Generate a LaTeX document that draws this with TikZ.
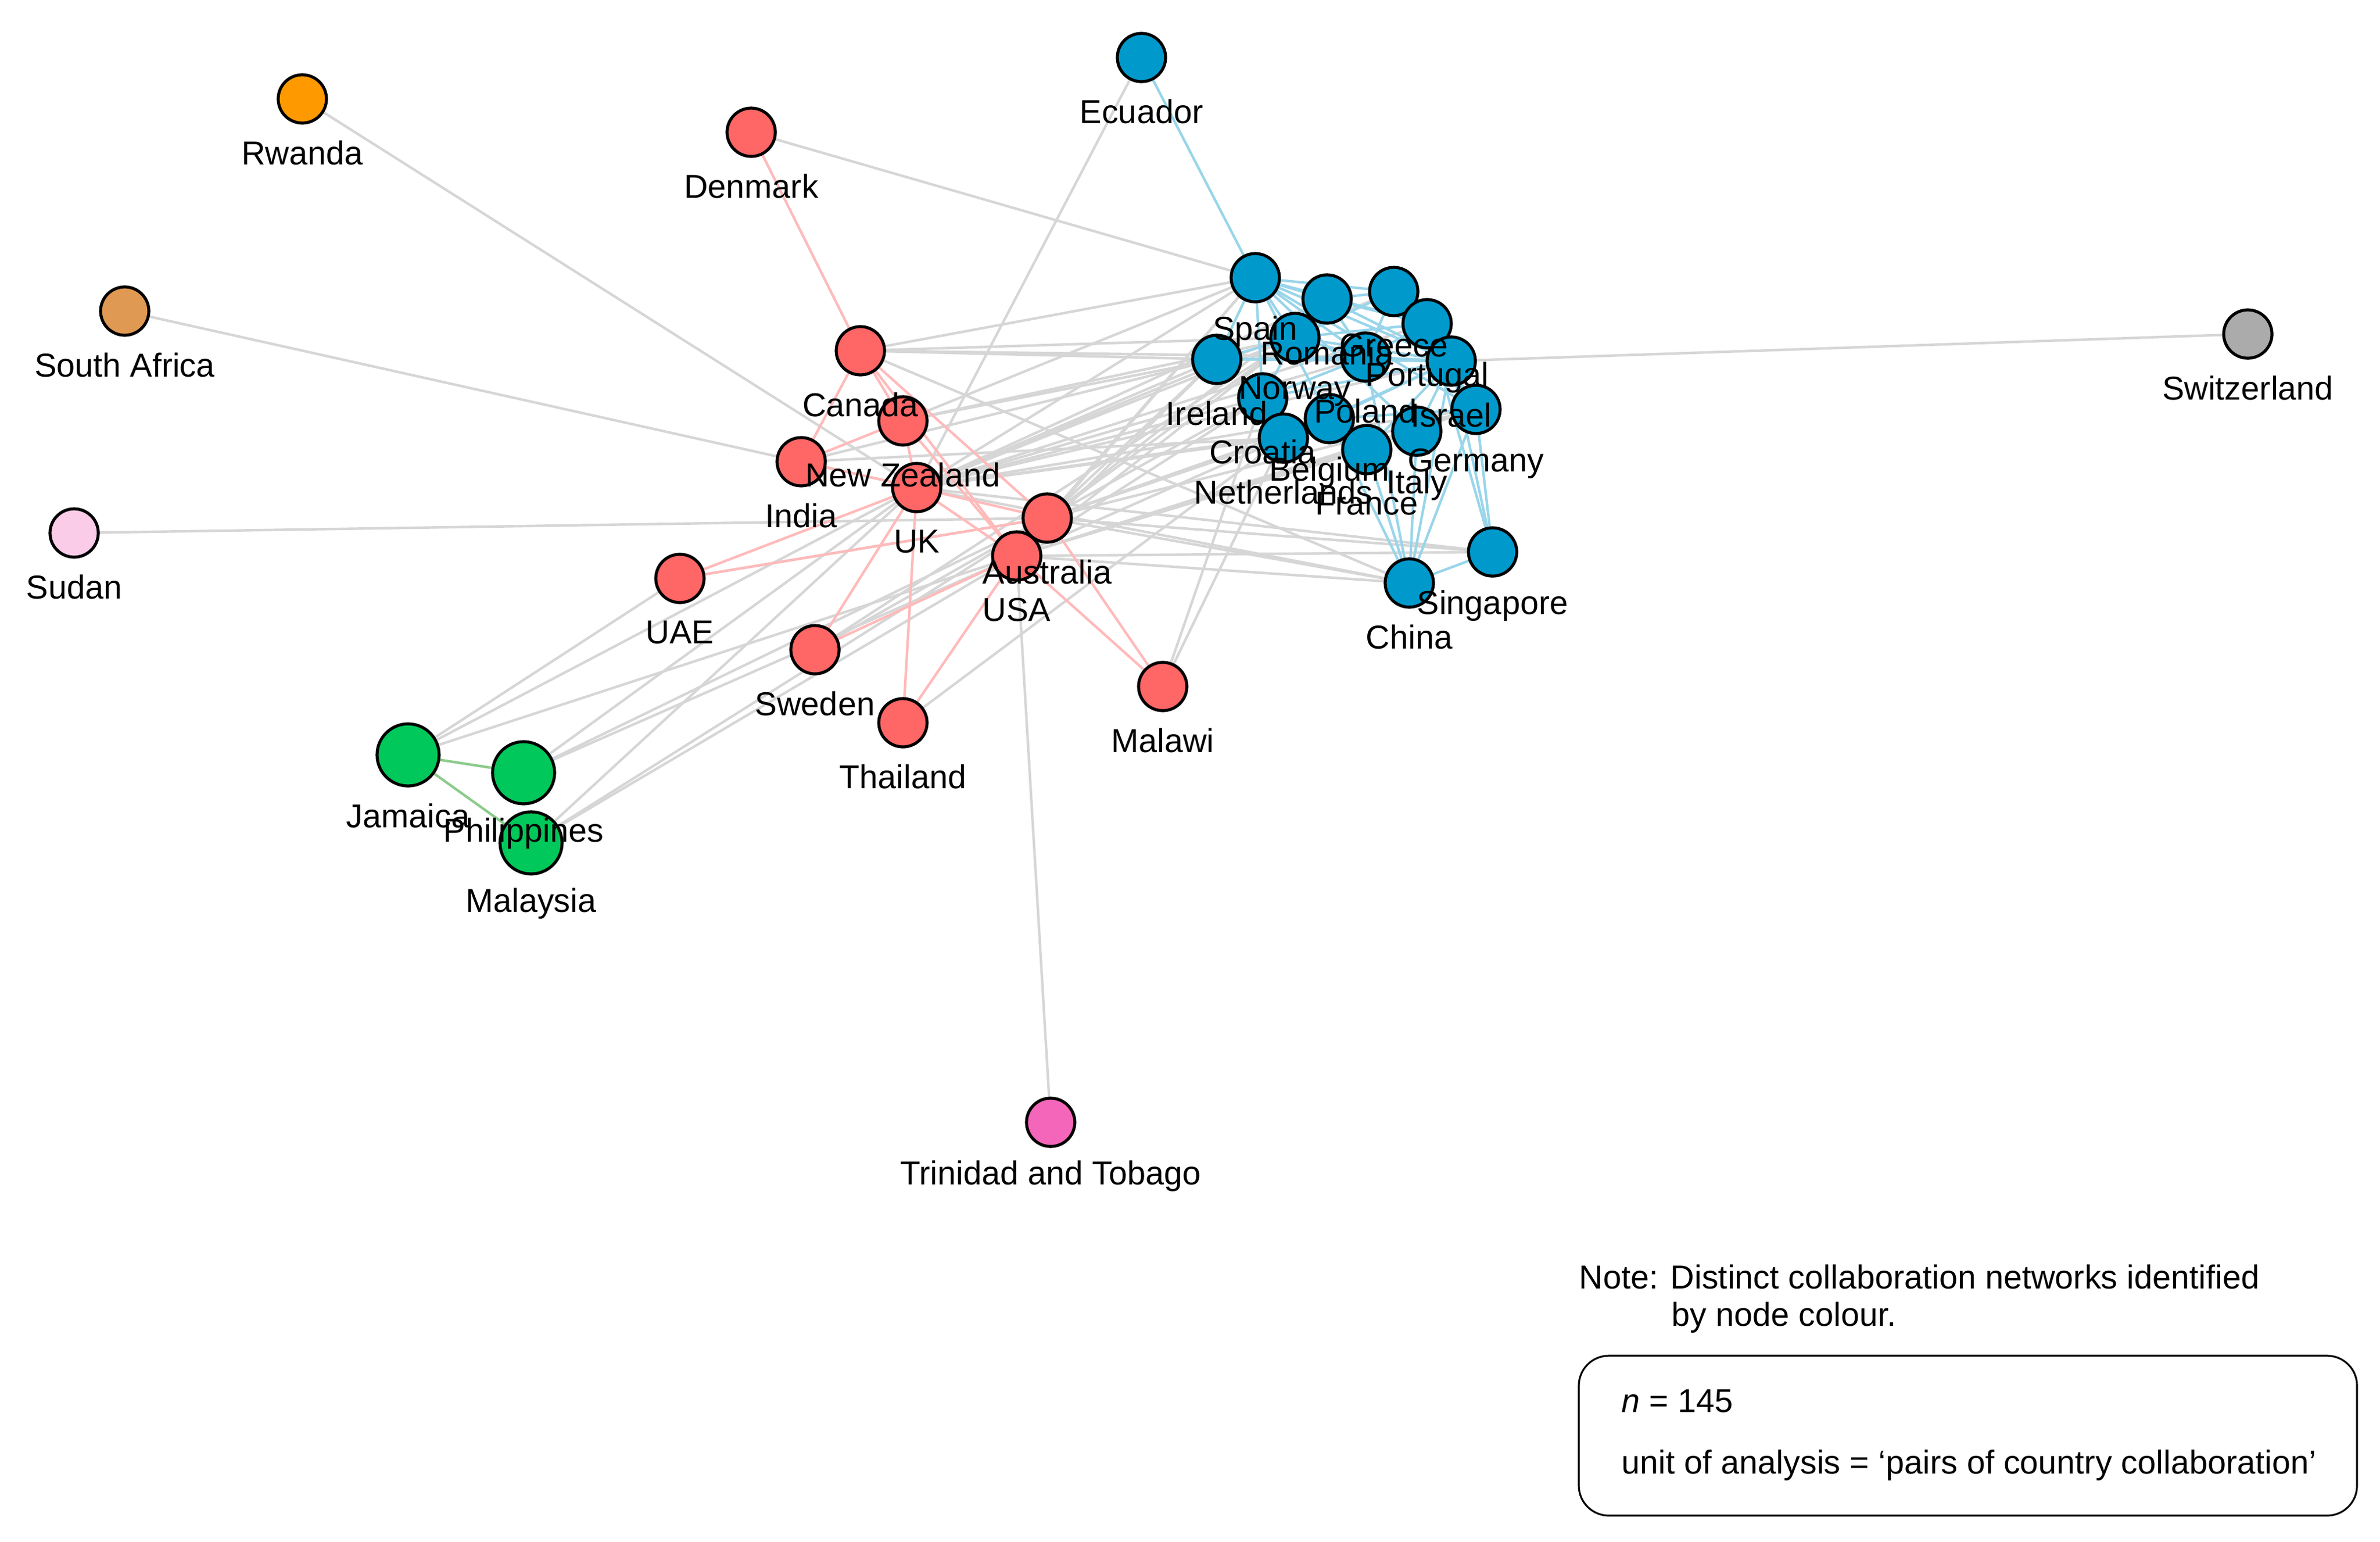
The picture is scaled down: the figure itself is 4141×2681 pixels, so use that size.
\documentclass[tikz,border=0pt]{standalone}
\usepackage{fontspec}
\setmainfont{Liberation Sans}
\begin{document}
\begin{tikzpicture}[x=0.25pt,y=-0.25pt,
 nd/.style={circle,draw=black,line width=1.3pt,minimum size=21pt,inner sep=0pt},
 big/.style={nd,minimum size=27pt},
 lb/.style={font=\fontsize{14.4}{16}\selectfont,inner sep=0pt},
 ge/.style={draw=black!16,line width=1.1pt},
 re/.style={draw=red!27,line width=1.1pt},
 be/.style={draw=cBE,line width=1.1pt},
 gre/.style={draw=green!55!black!45,line width=1.1pt}]
\definecolor{cR}{HTML}{FF6666}
\definecolor{cB}{HTML}{0099CC}
\definecolor{cBE}{HTML}{99D5EA}
\definecolor{cG}{HTML}{00C85A}
\useasboundingbox (0,0) rectangle (4141,2681);
% coordinates
\foreach \n/\x/\y in {Spain/2184/483,Romania/2309/520,Greece/2425/507,Portugal/2483/563,Norway/2253/587,Ireland/2117/625,Poland/2376/621,Israel/2525/628,Croatia/2197/692,Belgium/2313/728,Germany/2568/712,Netherlands/2233/762,Italy/2465/750,France/2378/782,Singapore/2597/960,China/2452/1014,Ecuador/1986/100,Rwanda/526/172,Denmark/1307/230,SAf/217/541,Switzerland/3911/581,Canada/1497/610,NZ/1571/732,India/1394/803,UK/1595/848,Australia/1822/901,USA/1769/967,Sudan/129/927,UAE/1183/1006,Sweden/1418/1130,Thailand/1571/1257,Malawi/2023/1194,Jamaica/710/1313,Philippines/911/1344,Malaysia/924/1466,Trinidad/1828/1952}
  \coordinate (\n) at (\x,\y);
% gray edges
\foreach \a/\b in {Rwanda/UK,SAf/UK,Sudan/Australia,Denmark/Spain,Ecuador/UK,Trinidad/USA,Switzerland/Israel,Malawi/Netherlands,Malawi/Croatia,
 Jamaica/UK,Jamaica/USA,Philippines/UK,Philippines/USA,Philippines/Australia,Malaysia/UK,Malaysia/Australia,Malaysia/USA,UAE/Australia,Jamaica/UAE,Sweden/Australia,
 Canada/Ireland,Canada/Norway,Canada/Spain,Canada/Poland,Canada/China,UK/Spain,UK/Ireland,UK/Norway,UK/Romania,UK/Croatia,UK/Netherlands,UK/Greece,UK/Portugal,UK/Germany,UK/Poland,UK/Belgium,UK/China,UK/Singapore,UK/Israel,
 USA/Spain,USA/Ireland,USA/Norway,USA/Croatia,USA/Netherlands,USA/Italy,USA/France,USA/China,USA/Singapore,USA/Germany,
 Australia/Spain,Australia/Ireland,Australia/Norway,Australia/Netherlands,Australia/Croatia,Australia/Belgium,Australia/Germany,Australia/China,Australia/Singapore,Australia/Romania,
 NZ/Ireland,NZ/Spain,NZ/Norway,India/Ireland,India/Netherlands,Sweden/Norway,Thailand/Netherlands}
  \draw[ge] (\a) -- (\b);
% red edges
\foreach \a/\b in {Denmark/Canada,Canada/India,Canada/NZ,Canada/Australia,Canada/USA,NZ/India,NZ/UK,NZ/USA,UK/India,UK/UAE,UK/Sweden,UK/Thailand,UK/Australia,UK/USA,UAE/Australia,Sweden/USA,Thailand/USA,USA/Malawi,Australia/Malawi}
  \draw[re] (\a) -- (\b);
% blue edges
\foreach \a/\b in {Ecuador/Spain,Spain/Romania,Spain/Greece,Spain/Portugal,Spain/Norway,Spain/Poland,Spain/Israel,Spain/Croatia,Spain/Belgium,Spain/Italy,Spain/Germany,Spain/Ireland,Romania/Greece,Romania/Portugal,Romania/Poland,Romania/Norway,Romania/Israel,Greece/Portugal,Greece/Poland,Greece/Israel,Greece/Norway,Greece/Germany,Portugal/Israel,Portugal/Norway,Portugal/Germany,Portugal/Poland,Norway/Poland,Norway/Israel,Norway/Croatia,Ireland/Poland,Ireland/Israel,Ireland/Norway,Poland/Israel,Croatia/Israel,Croatia/Poland,Belgium/Germany,Belgium/Israel,Netherlands/Israel,Italy/Israel,France/Israel,Germany/China,Germany/Singapore,Israel/China,Israel/Singapore,Italy/China,France/China,Poland/China,Belgium/China,China/Singapore,Portugal/Singapore}
  \draw[be] (\a) -- (\b);
% green edges
\draw[gre] (Jamaica) -- (Philippines);
\draw[gre] (Jamaica) -- (Malaysia);
% nodes
\foreach \n in {Spain,Romania,Greece,Portugal,Norway,Ireland,Poland,Israel,Croatia,Belgium,Germany,Netherlands,Italy,France,Singapore,China,Ecuador}
  {\node[nd,fill=cB] (n\n) at (\n) {};}
\foreach \n/\c in {Rwanda/{orange!80!yellow},SAf/{brown!60!orange!80!white},Switzerland/{black!33},Sudan/{magenta!20},Trinidad/{magenta!60!white},Denmark/cR,Canada/cR,NZ/cR,India/cR,UK/cR,Australia/cR,USA/cR,UAE/cR,Sweden/cR,Thailand/cR,Malawi/cR}
  {\node[nd,fill=\c] (n\n) at (\n) {};}
\foreach \n in {Jamaica,Philippines,Malaysia}
  {\node[big,fill=cG] (n\n) at (\n) {};}
% labels
\foreach \n/\t in {Spain/Spain,Romania/Romania,Greece/Greece,Portugal/Portugal,Norway/Norway,Ireland/Ireland,Poland/Poland,Israel/Israel,Croatia/Croatia,Belgium/Belgium,Germany/Germany,Netherlands/Netherlands,Italy/Italy,France/France,Singapore/Singapore,China/China,Ecuador/Ecuador,Rwanda/Rwanda,SAf/South Africa,Switzerland/Switzerland,Sudan/Sudan,Trinidad/Trinidad and Tobago,Denmark/Denmark,Canada/Canada,NZ/New Zealand,India/India,UK/UK,Australia/Australia,USA/USA,UAE/UAE,Sweden/Sweden,Thailand/Thailand,Malawi/Malawi}
  {\node[lb] (l\n) at ([yshift=-23.5pt]\n) {\t};}
\foreach \n in {Jamaica,Philippines,Malaysia}
  {\node[lb] (l\n) at ([yshift=-26.5pt]\n) {\n};}
% note
\node[lb,anchor=west] (note1) at (2747,2221) {Note: Distinct collaboration networks identified};
\node[lb,anchor=west] (note2) at (2908,2292) {by node colour.};
\draw[line width=0.8pt,rounded corners=13pt] (2747,2358) rectangle (4101,2636);
\node[lb,anchor=west] (nn) at (2821,2437) {\textit{n} = 145};
\node[lb,anchor=west] (unit) at (2821,2549) {unit of analysis = ‘pairs of country collaboration’};
\end{tikzpicture}
\end{document}
